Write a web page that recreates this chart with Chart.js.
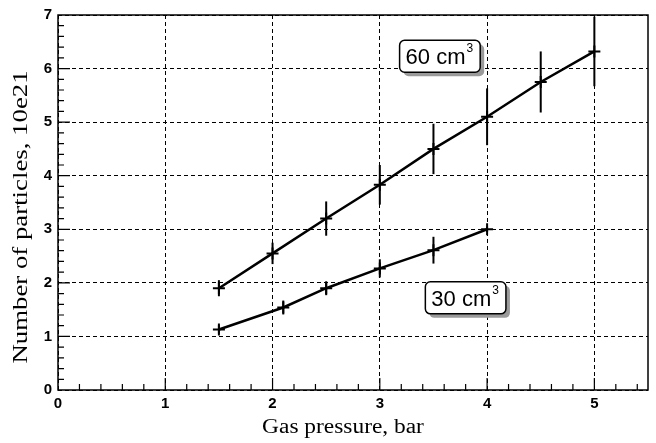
<!DOCTYPE html>
<html>
<head>
<meta charset="utf-8">
<script src="https://cdn.jsdelivr.net/npm/chart.js@4/dist/chart.umd.min.js"></script>
<style>
  html, body { margin: 0; padding: 0; background: #fff; }
  canvas { display: block; }
</style>
</head>
<body>
<canvas id="chart" width="656" height="443"></canvas>
<script>
// data
const pressure60 = [1.5, 2, 2.5, 3, 3.5, 4, 4.5, 5];
const particles60 = [1.9, 2.55, 3.2, 3.83, 4.5, 5.1, 5.75, 6.32];
const error60 = [0.15, 0.2, 0.32, 0.37, 0.47, 0.53, 0.57, 0.65];

const pressure30 = [1.5, 2.1, 2.5, 3, 3.5, 4];
const particles30 = [1.13, 1.54, 1.9, 2.27, 2.61, 3.0];
const error30 = [0.08, 0.13, 0.13, 0.17, 0.25, 0.05];

const xTicks = [0, 1, 2, 3, 4, 5];
const yTicks = [0, 1, 2, 3, 4, 5, 6, 7];
const seriesLabels = ["60 cm", "30 cm"];
const xTitle = "Gas pressure, bar";
const yTitle = "Number of particles, 10e21";

const toPoints = (xs, ys) => xs.map((x, i) => ({ x, y: ys[i] }));

/* vertical error bars, drawn through the scales */
const errorBars = {
  id: "errorBars",
  afterDatasetsDraw(chart) {
    const { ctx, scales: { x, y } } = chart;
    ctx.save();
    ctx.strokeStyle = "#000";
    ctx.lineWidth = 2;
    chart.data.datasets.forEach(ds => {
      ds.data.forEach((p, i) => {
        const e = ds.errors[i];
        const px = x.getPixelForValue(p.x);
        ctx.beginPath();
        ctx.moveTo(px, y.getPixelForValue(p.y - e));
        ctx.lineTo(px, y.getPixelForValue(p.y + e));
        ctx.stroke();
      });
    });
    ctx.restore();
  }
};

/* solid frame + inward minor/major ticks */
const frame = {
  id: "frame",
  afterDraw(chart) {
    const { ctx, chartArea: a, scales: { x, y } } = chart;
    ctx.save();
    ctx.strokeStyle = "#000";
    ctx.lineWidth = 1.5;
    ctx.strokeRect(a.left, a.top, a.right - a.left, a.bottom - a.top);
    ctx.lineWidth = 1.2;
    ctx.beginPath();
    for (let k = 1; k < 28; k++) {
      const v = k / 5;
      if (v > 5.5) break;
      const px = x.getPixelForValue(v);
      const len = k % 5 === 0 ? 12 : 6;
      ctx.moveTo(px, a.bottom);
      ctx.lineTo(px, a.bottom - len);
    }
    for (let k = 1; k < 35; k++) {
      const py = y.getPixelForValue(k / 5);
      const len = k % 5 === 0 ? 12 : 6;
      ctx.moveTo(a.left, py);
      ctx.lineTo(a.left + len, py);
    }
    ctx.stroke();
    ctx.restore();
  }
};

/* axis titles - the scanned serif text is stretched along its baseline */
const axisTitles = {
  id: "axisTitles",
  afterDraw(chart) {
    const { ctx } = chart;
    ctx.save();
    ctx.fillStyle = "#000";
    ctx.textAlign = "center";
    ctx.textBaseline = "middle";
    ctx.font = "20px 'Liberation Serif', 'Times New Roman', serif";
    ctx.save();
    ctx.translate(343, 428);
    ctx.scale(1.17, 1);
    ctx.fillText(xTitle, 0, 0);
    ctx.restore();
    ctx.save();
    ctx.translate(22, 217);
    ctx.rotate(-Math.PI / 2);
    ctx.scale(1.34, 1);
    ctx.fillText(yTitle, 0, 0);
    ctx.restore();
    ctx.restore();
  }
};

/* boxed labels with a grey drop shadow */
const boxLabels = {
  id: "boxLabels",
  afterDraw(chart, args, opts) {
    const { ctx, scales: { x, y } } = chart;
    ctx.save();
    opts.items.forEach(item => {
      ctx.font = "22px 'Liberation Sans', Arial, sans-serif";
      const tw = ctx.measureText(item.text).width;
      ctx.font = "12px 'Liberation Sans', Arial, sans-serif";
      const sw = ctx.measureText("3").width;
      const w = tw + sw + 14, h = 32;
      const cx = x.getPixelForValue(item.x), cy = y.getPixelForValue(item.y);
      const l = cx - w / 2, t = cy - h / 2;
      ctx.fillStyle = "#9a9a9a";
      ctx.beginPath();
      ctx.roundRect(l + 4, t + 4, w, h, 5);
      ctx.fill();
      ctx.fillStyle = "#fff";
      ctx.strokeStyle = "#000";
      ctx.lineWidth = 1.5;
      ctx.beginPath();
      ctx.roundRect(l, t, w, h, 5);
      ctx.fill();
      ctx.stroke();
      ctx.fillStyle = "#000";
      ctx.textBaseline = "alphabetic";
      ctx.textAlign = "left";
      ctx.font = "22px 'Liberation Sans', Arial, sans-serif";
      ctx.fillText(item.text, l + 6, cy + 8);
      ctx.font = "12px 'Liberation Sans', Arial, sans-serif";
      ctx.fillText("3", l + 7 + tw, cy - 4);
    });
    ctx.restore();
  }
};

const lineStyle = {
  borderColor: "#000",
  borderWidth: 2.5,
  pointStyle: "cross",
  pointRadius: 6,
  pointBorderWidth: 2,
  pointBorderColor: "#000",
  tension: 0,
  fill: false
};

const tickFont = { family: "'Liberation Sans', Arial, sans-serif", size: 15, weight: "bold" };

new Chart(document.getElementById("chart"), {
  type: "line",
  data: {
    datasets: [
      { label: seriesLabels[0], data: toPoints(pressure60, particles60), errors: error60, ...lineStyle },
      { label: seriesLabels[1], data: toPoints(pressure30, particles30), errors: error30, ...lineStyle }
    ]
  },
  options: {
    responsive: false,
    devicePixelRatio: 1,
    animation: false,
    layout: { padding: { left: 6, right: 4, top: 15, bottom: 2 } },
    plugins: {
      legend: { display: false },
      tooltip: { enabled: false },
      boxLabels: {
        items: [
          { text: seriesLabels[0], x: 3.56, y: 6.23 },
          { text: seriesLabels[1], x: 3.8, y: 1.72 }
        ]
      }
    },
    scales: {
      x: {
        type: "linear",
        min: 0,
        max: 5.5,
        afterBuildTicks: s => { s.ticks = xTicks.map(v => ({ value: v })); },
        afterFit: s => { s.height = 51; },
        grid: { color: "#000", lineWidth: 1, drawTicks: false },
        border: { display: false, dash: [4, 3] },
        ticks: { color: "#000", padding: 5, font: tickFont }
      },
      y: {
        type: "linear",
        min: 0,
        max: 7,
        afterBuildTicks: s => { s.ticks = yTicks.map(v => ({ value: v })); },
        afterFit: s => { s.width = 52; },
        grid: { color: "#000", lineWidth: 1, drawTicks: false },
        border: { display: false, dash: [4, 3] },
        ticks: { color: "#000", padding: 6, font: tickFont }
      }
    }
  },
  plugins: [errorBars, frame, axisTitles, boxLabels]
});
</script>
</body>
</html>
